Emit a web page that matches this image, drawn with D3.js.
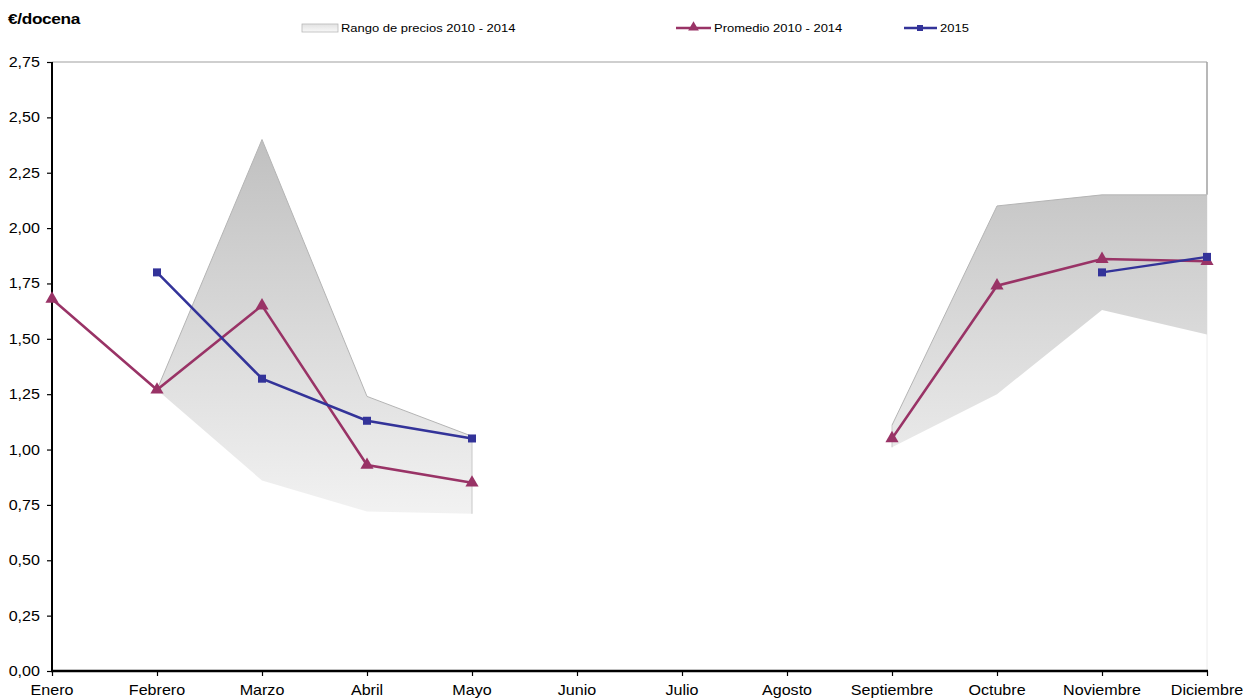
<!DOCTYPE html>
<html>
<head>
<meta charset="utf-8">
<script src="https://cdn.jsdelivr.net/npm/d3@7"></script>
<style>
  body { margin: 0; background: #fff; }
  text { font-family: "Liberation Sans", Arial, sans-serif; fill: #000; }
</style>
</head>
<body>
<div id="chart"></div>
<script>
var months = ["Enero", "Febrero", "Marzo", "Abril", "Mayo", "Junio", "Julio",
              "Agosto", "Septiembre", "Octubre", "Noviembre", "Diciembre"];
var rangoMin = [null, 1.27, 0.86, 0.72, 0.71, null, null, null, 1.01, 1.25, 1.63, 1.52];
var rangoMax = [null, 1.27, 2.40, 1.24, 1.06, null, null, null, 1.11, 2.10, 2.15, 2.15];
var promedio = [1.68, 1.27, 1.65, 0.93, 0.85, null, null, null, 1.05, 1.74, 1.86, 1.85];
var serie2015 = [null, 1.80, 1.32, 1.13, 1.05, null, null, null, null, null, 1.80, 1.87];
var yTicks = [0, 0.25, 0.5, 0.75, 1, 1.25, 1.5, 1.75, 2, 2.25, 2.5, 2.75];

var W = 1255, H = 700;
var plotLeft = 52, plotRight = 1207, plotTop = 62, plotBottom = 671;
var stretch = 1.15;

var svg = d3.select("#chart").append("svg")
  .attr("width", W).attr("height", H);

var x = d3.scalePoint().domain(months).range([plotLeft, plotRight]);
var y = d3.scaleLinear().domain([0, 2.75]).range([plotBottom, plotTop]);

var fmt = function (v) { return d3.format(".2f")(v).replace(".", ","); };

// gradient for the range band
var defs = svg.append("defs");
var grad = defs.append("linearGradient")
  .attr("id", "rangoGrad")
  .attr("gradientUnits", "userSpaceOnUse")
  .attr("x1", 0).attr("x2", 0)
  .attr("y1", y(2.40)).attr("y2", y(0.70));
grad.append("stop").attr("offset", "0%").attr("stop-color", "#c0c0c0");
grad.append("stop").attr("offset", "100%").attr("stop-color", "#f2f2f2");

var legGrad = defs.append("linearGradient")
  .attr("id", "legGrad").attr("x1", 0).attr("x2", 0).attr("y1", 0).attr("y2", 1);
legGrad.append("stop").attr("offset", "0%").attr("stop-color", "#e2e2e2");
legGrad.append("stop").attr("offset", "100%").attr("stop-color", "#f8f8f8");

// plot frame (top and right)
svg.append("line")
  .attr("x1", plotLeft).attr("x2", plotRight).attr("y1", plotTop).attr("y2", plotTop)
  .attr("stroke", "#a0a0a0").attr("stroke-width", 1.2);
svg.append("line")
  .attr("x1", plotRight).attr("x2", plotRight).attr("y1", plotTop).attr("y2", y(2.15))
  .attr("stroke", "#a0a0a0").attr("stroke-width", 1.5);
svg.append("line")
  .attr("x1", plotRight).attr("x2", plotRight).attr("y1", y(2.15)).attr("y2", plotBottom)
  .attr("stroke", "#ececec").attr("stroke-width", 1);

// range band
var rows = months.map(function (m, i) {
  return { m: m, lo: rangoMin[i], hi: rangoMax[i], avg: promedio[i], v15: serie2015[i] };
});

var area = d3.area()
  .defined(function (d) { return d.lo != null && d.hi != null; })
  .x(function (d) { return x(d.m); })
  .y0(function (d) { return y(d.lo); })
  .y1(function (d) { return y(d.hi); });

svg.append("path")
  .datum(rows)
  .attr("d", area)
  .attr("fill", "url(#rangoGrad)")
  .attr("stroke", "none");

// faint outline on upper edge and end edges
var topLine = d3.line()
  .defined(function (d) { return d.hi != null; })
  .x(function (d) { return x(d.m); })
  .y(function (d) { return y(d.hi); });
svg.append("path")
  .datum(rows)
  .attr("d", topLine)
  .attr("fill", "none")
  .attr("stroke", "#b4b4b4").attr("stroke-width", 1);
["Mayo", "Septiembre"].forEach(function (m) {
  var r = rows[months.indexOf(m)];
  svg.append("line")
    .attr("x1", x(m)).attr("x2", x(m))
    .attr("y1", y(r.hi)).attr("y2", y(r.lo))
    .attr("stroke", "#c8c8c8").attr("stroke-width", 1);
});

// axes
var yAxis = svg.append("g")
  .attr("transform", "translate(" + plotLeft + ",0)")
  .call(d3.axisLeft(y).tickValues(yTicks).tickSize(5).tickFormat(""));
yAxis.select(".domain").remove();
yAxis.selectAll("line").attr("stroke", "#000").attr("stroke-width", 1.2);

yTicks.forEach(function (t) {
  svg.append("text")
    .attr("transform", "translate(40," + (y(t) + 5) + ") scale(" + stretch + ",1)")
    .attr("text-anchor", "end")
    .style("font-size", "14px")
    .text(fmt(t));
});

var xAxis = svg.append("g")
  .attr("transform", "translate(0," + plotBottom + ")")
  .call(d3.axisBottom(x).tickSize(5).tickFormat(""));
xAxis.select(".domain").remove();
xAxis.selectAll("line").attr("stroke", "#000").attr("stroke-width", 1.2);

months.forEach(function (m) {
  svg.append("text")
    .attr("transform", "translate(" + x(m) + ",695) scale(" + stretch + ",1)")
    .attr("text-anchor", "middle")
    .style("font-size", "14px")
    .text(m);
});

svg.append("line")
  .attr("x1", plotLeft).attr("x2", plotLeft).attr("y1", plotTop).attr("y2", plotBottom + 1)
  .attr("stroke", "#000").attr("stroke-width", 2);
svg.append("line")
  .attr("x1", plotLeft - 1).attr("x2", plotRight + 1).attr("y1", plotBottom).attr("y2", plotBottom)
  .attr("stroke", "#000").attr("stroke-width", 2.5);

// lines
var avgColor = "#993366", c2015 = "#333399";

var lineAvg = d3.line()
  .defined(function (d) { return d.avg != null; })
  .x(function (d) { return x(d.m); })
  .y(function (d) { return y(d.avg); });
var line15 = d3.line()
  .defined(function (d) { return d.v15 != null; })
  .x(function (d) { return x(d.m); })
  .y(function (d) { return y(d.v15); });

svg.append("path").datum(rows).attr("d", lineAvg)
  .attr("fill", "none").attr("stroke", avgColor).attr("stroke-width", 2.5);

svg.selectAll(".tri")
  .data(rows.filter(function (d) { return d.avg != null; }))
  .enter().append("path")
  .attr("class", "tri")
  .attr("transform", function (d) { return "translate(" + x(d.m) + "," + y(d.avg) + ")"; })
  .attr("d", d3.symbol().type(d3.symbolTriangle).size(75))
  .attr("fill", avgColor);

svg.append("path").datum(rows).attr("d", line15)
  .attr("fill", "none").attr("stroke", c2015).attr("stroke-width", 2.5);

svg.selectAll(".sq")
  .data(rows.filter(function (d) { return d.v15 != null; }))
  .enter().append("rect")
  .attr("class", "sq")
  .attr("x", function (d) { return x(d.m) - 4; })
  .attr("y", function (d) { return y(d.v15) - 4; })
  .attr("width", 8).attr("height", 8)
  .attr("fill", c2015);

// title
svg.append("text")
  .attr("transform", "translate(8,24) scale(" + stretch + ",1)")
  .style("font-size", "15px").style("font-weight", "bold")
  .style("letter-spacing", "-0.3px")
  .text("€/docena");

// legend
svg.append("rect")
  .attr("x", 302).attr("y", 24).attr("width", 36).attr("height", 8)
  .attr("fill", "url(#legGrad)").attr("stroke", "#b8b8b8").attr("stroke-width", 0.8);
svg.append("text")
  .attr("transform", "translate(341,32) scale(1.18,1)")
  .style("font-size", "11px")
  .text("Rango de precios 2010 - 2014");

svg.append("line")
  .attr("x1", 676).attr("x2", 711).attr("y1", 28).attr("y2", 28)
  .attr("stroke", avgColor).attr("stroke-width", 2.5);
svg.append("path")
  .attr("transform", "translate(693.5,27.5)")
  .attr("d", d3.symbol().type(d3.symbolTriangle).size(50))
  .attr("fill", avgColor);
svg.append("text")
  .attr("transform", "translate(714,32) scale(1.18,1)")
  .style("font-size", "11px")
  .text("Promedio 2010 - 2014");

svg.append("line")
  .attr("x1", 904).attr("x2", 937).attr("y1", 28).attr("y2", 28)
  .attr("stroke", c2015).attr("stroke-width", 2.5);
svg.append("rect")
  .attr("x", 917).attr("y", 25).attr("width", 6).attr("height", 6)
  .attr("fill", c2015);
svg.append("text")
  .attr("transform", "translate(940,32) scale(1.18,1)")
  .style("font-size", "11px")
  .text("2015");
</script>
</body>
</html>
